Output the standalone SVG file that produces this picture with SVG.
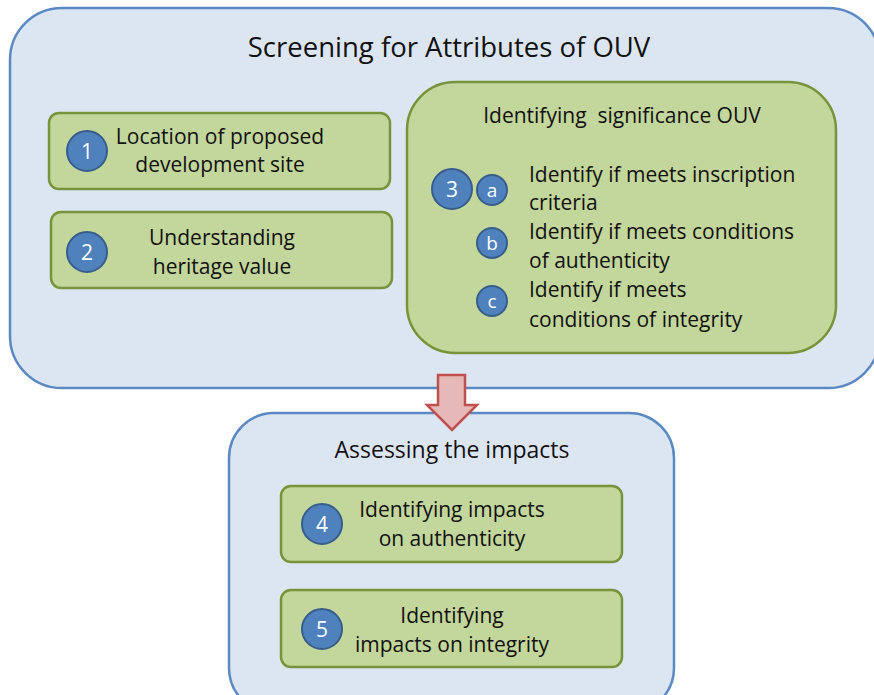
<svg xmlns="http://www.w3.org/2000/svg" width="874" height="695" viewBox="0 0 874 695">
<style>
.outer{fill:#dce6f2;stroke:#5b89c4;stroke-width:2.5}
.green{fill:#c3d69b;stroke:#77933c;stroke-width:2.5}
.num{fill:#4f81bd;stroke:#385d8a;stroke-width:2}
.nt{font-family:"Open Sans","Liberation Sans",sans-serif;fill:#fff;text-anchor:middle}
.t{font-family:"Open Sans","Liberation Sans",sans-serif;fill:#111;font-size:21px}
.c{text-anchor:middle}
.h{font-family:"Open Sans","Liberation Sans",sans-serif;fill:#111;text-anchor:middle}
</style>
<rect width="874" height="695" fill="#ffffff"/>
<g id="screening">
<rect class="outer" x="10" y="8" width="870" height="380" rx="52"/>
<text class="h" x="449" y="57" font-size="27.5">Screening for Attributes of OUV</text>
</g>
<g id="node1">
<rect class="green" x="49" y="113" width="341" height="76" rx="10"/>
<circle class="num" cx="87" cy="151" r="20"/>
<text class="nt" x="87" y="159" font-size="21">1</text>
<text class="t c" x="220" y="144">Location of proposed</text>
<text class="t c" x="220" y="172">development site</text>
</g>
<g id="node2">
<rect class="green" x="51" y="212" width="341" height="76" rx="10"/>
<circle class="num" cx="87" cy="252" r="20"/>
<text class="nt" x="87" y="260" font-size="21">2</text>
<text class="t c" x="222" y="245">Understanding</text>
<text class="t c" x="222" y="274">heritage value</text>
</g>
<g id="node3">
<rect class="green" x="407" y="82" width="429" height="271" rx="48"/>
<text class="t c" x="622" y="123" xml:space="preserve">Identifying  significance OUV</text>
<circle class="num" cx="452" cy="189" r="20"/>
<text class="nt" x="452" y="197" font-size="21">3</text>
<circle class="num" cx="492" cy="190" r="15"/>
<text class="nt" x="492" y="197" font-size="19">a</text>
<text class="t" x="529" y="182">Identify if meets inscription</text>
<text class="t" x="529" y="210">criteria</text>
<circle class="num" cx="492" cy="243" r="15"/>
<text class="nt" x="492" y="250" font-size="19">b</text>
<text class="t" x="529" y="239">Identify if meets conditions</text>
<text class="t" x="529" y="268">of authenticity</text>
<circle class="num" cx="492" cy="301" r="15"/>
<text class="nt" x="492" y="308" font-size="19">c</text>
<text class="t" x="529" y="297">Identify if meets</text>
<text class="t" x="529" y="327">conditions of integrity</text>
</g>
<g id="assessing">
<rect class="outer" x="229" y="413" width="445" height="300" rx="45"/>
<text class="h" x="452" y="458" font-size="23">Assessing the impacts</text>
</g>
<g id="node4">
<rect class="green" x="281" y="486" width="341" height="76" rx="10"/>
<circle class="num" cx="322" cy="524" r="20"/>
<text class="nt" x="322" y="532" font-size="21">4</text>
<text class="t c" x="452" y="517">Identifying impacts</text>
<text class="t c" x="452" y="546">on authenticity</text>
</g>
<g id="node5">
<rect class="green" x="281" y="590" width="341" height="77" rx="10"/>
<circle class="num" cx="322" cy="629" r="20"/>
<text class="nt" x="322" y="637" font-size="21">5</text>
<text class="t c" x="452" y="623">Identifying</text>
<text class="t c" x="452" y="652">impacts on integrity</text>
</g>
<g id="connectors">
<path d="M438,375 H465 V405 H477 L452,430 L427,405 H438 Z" fill="#e6b9b8" stroke="#c0504d" stroke-width="2.5" stroke-linejoin="miter"/>
</g>
</svg>
